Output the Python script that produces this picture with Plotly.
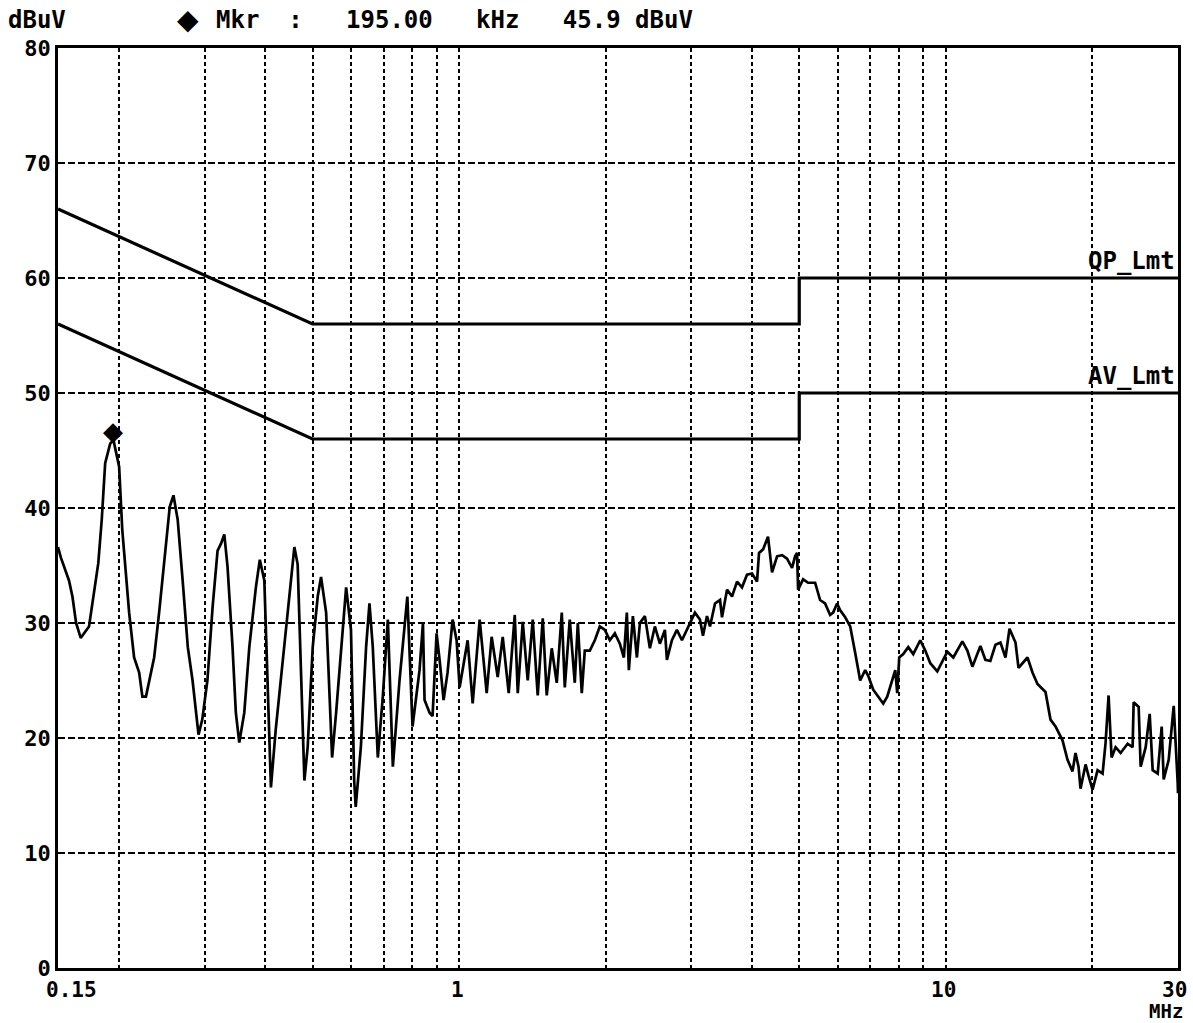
import numpy as np
import plotly.graph_objects as go

# ---- measured trace (frequency in MHz, level in dBuV) ----
freq_mhz = [
    0.150, 0.152, 0.158, 0.1606, 0.1634, 0.167, 0.1737, 0.1762, 0.1815, 0.1845,
    0.1875, 0.192, 0.195, 0.2003, 0.2033, 0.210, 0.215, 0.2202, 0.2236, 0.2274,
    0.2364, 0.242, 0.2498, 0.2545, 0.259, 0.2642, 0.2705, 0.2772, 0.2835, 0.288,
    0.2916, 0.2968, 0.3041, 0.3117, 0.3191, 0.3243, 0.3294, 0.3345, 0.3425, 0.3479,
    0.3536, 0.3621, 0.3708, 0.3825, 0.3897, 0.3981, 0.4043, 0.4107, 0.4201, 0.4342,
    0.4481, 0.4589, 0.4661, 0.4737, 0.4812, 0.4887, 0.5005, 0.5125, 0.5206, 0.5333,
    0.5416, 0.5486, 0.5591, 0.5725, 0.5862, 0.5998, 0.609, 0.6134, 0.6285, 0.6443,
    0.6546, 0.665, 0.681, 0.6973, 0.7141, 0.7312, 0.7546, 0.7831, 0.8025, 0.8296,
    0.8431, 0.8495, 0.870, 0.8823, 0.8993, 0.9122, 0.9296, 0.9473, 0.970, 0.9886,
    1.0028, 1.0416, 1.0667, 1.1026, 1.1398, 1.1669, 1.2007, 1.2296, 1.265, 1.3016,
    1.3202, 1.3518, 1.3839, 1.4171, 1.4511, 1.4859, 1.5142, 1.5506, 1.5878, 1.6259,
    1.6492, 1.6885, 1.729, 1.754, 1.7872, 1.813, 1.8565, 1.9011, 1.9467, 1.9933,
    2.0407, 2.0898, 2.1399, 2.1811, 2.212, 2.233, 2.2761, 2.3196, 2.3529, 2.4093,
    2.4666, 2.5257, 2.5863, 2.6484, 2.6736, 2.7377, 2.8034, 2.8706, 2.9394, 3.01,
    3.0527, 3.1259, 3.1707, 3.2316, 3.278, 3.3566, 3.4371, 3.4697, 3.5529, 3.6381,
    3.7254, 3.8138, 3.9053, 3.999, 4.0949, 4.1337, 4.2135, 4.3136, 4.3967, 4.5023,
    4.6103, 4.7198, 4.833, 4.9025, 4.949, 4.973, 5.0922, 5.2143, 5.3901, 5.5182,
    5.6505, 5.786, 5.8692, 5.9811, 6.0686, 6.2142, 6.3632, 6.5157, 6.6705, 6.8304,
    6.9288, 7.095, 7.2651, 7.4393, 7.581, 7.7628, 7.8743, 7.949, 8.0244, 8.1776,
    8.3736, 8.5743, 8.8635, 9.0761, 9.2937, 9.6071, 10.073, 10.362, 10.817, 11.076,
    11.342, 11.78, 12.06, 12.348, 12.651, 12.954, 13.265, 13.518, 13.908, 14.108,
    14.72, 15.072, 15.431, 16.029, 16.412, 16.806, 17.372, 17.789, 18.215, 18.474,
    18.74, 18.918, 19.373, 19.65, 20.027, 20.507, 20.999, 21.3, 21.602, 21.912,
    22.331, 22.866, 23.637, 24.204, 24.321, 24.904, 25.142, 25.745, 26.237, 26.613,
    27.252, 27.773, 28.035, 28.709, 29.397, 29.958, 30.0,
]
level_dbuv = [
    36.6, 35.7, 33.7, 32.3, 30.0, 28.7, 29.7, 31.4, 35.2, 39.0,
    43.9, 45.6, 45.9, 43.6, 38.1, 30.9, 27.0, 25.7, 23.6, 23.6,
    27.0, 30.9, 36.6, 40.1, 41.1, 39.0, 33.7, 27.9, 25.0, 22.2,
    20.3, 21.6, 25.0, 31.4, 36.3, 36.9, 37.7, 34.9, 27.9, 22.2,
    19.6, 22.2, 27.9, 33.1, 35.5, 33.7, 25.0, 15.7, 20.7, 26.5,
    32.3, 36.6, 35.1, 25.0, 16.3, 19.2, 27.9, 32.3, 34.0, 30.9,
    23.6, 18.3, 22.2, 27.9, 33.1, 29.4, 16.3, 14.0, 19.2, 27.9,
    31.7, 27.9, 18.3, 23.6, 30.3, 17.5, 25.0, 32.3, 21.0, 25.9,
    30.0, 23.3, 22.2, 21.9, 29.1, 26.8, 23.3, 25.7, 30.3, 28.5,
    24.4, 28.5, 23.0, 30.3, 23.9, 28.8, 25.3, 28.8, 23.9, 30.7,
    23.9, 30.1, 25.0, 30.3, 23.7, 30.4, 23.7, 27.8, 24.8, 30.9,
    24.4, 30.3, 24.8, 30.0, 23.9, 27.6, 27.6, 28.5, 29.7, 29.4,
    28.5, 29.1, 28.2, 27.0, 30.9, 25.9, 30.6, 27.0, 30.0, 30.6,
    27.8, 29.7, 28.2, 29.4, 26.8, 28.5, 29.4, 28.5, 29.4, 30.3,
    30.9, 30.3, 28.9, 30.6, 29.7, 31.7, 32.0, 30.5, 32.9, 32.3,
    33.6, 33.1, 34.2, 34.3, 33.6, 36.1, 36.4, 37.5, 34.4, 35.8,
    35.9, 35.6, 34.8, 35.8, 36.1, 32.9, 33.8, 33.5, 33.5, 32.0,
    31.7, 30.7, 30.9, 31.7, 31.1, 30.5, 29.7, 27.4, 25.0, 25.9,
    25.4, 24.2, 23.6, 23.0, 23.6, 25.0, 25.9, 23.9, 27.0, 27.3,
    27.9, 27.3, 28.5, 27.6, 26.5, 25.8, 27.5, 27.0, 28.4, 27.6,
    26.2, 28.0, 26.8, 26.7, 28.1, 28.3, 27.0, 29.5, 28.3, 26.1,
    27.0, 25.7, 24.7, 24.0, 21.6, 21.0, 19.8, 18.1, 17.1, 18.7,
    17.5, 15.6, 17.7, 16.7, 15.5, 17.2, 16.9, 19.6, 23.7, 18.3,
    19.2, 18.7, 19.5, 19.2, 23.1, 22.7, 17.5, 19.2, 22.1, 17.2,
    16.9, 21.0, 16.4, 18.1, 22.8, 16.1, 15.2,
]

# ---- limit lines ----
qp_freq = [0.15, 0.5, 5.0, 5.0, 30.0]
qp_level = [66, 56, 56, 60, 60]
av_freq = [0.15, 0.5, 5.0, 5.0, 30.0]
av_level = [56, 46, 46, 50, 50]
limit_labels = ["QP_Lmt", "AV_Lmt"]
limit_label_levels = [60, 50]

# ---- marker ----
mkr_freq_mhz = 0.195
mkr_level = 45.9

# ---- axes ----
x_grid_vals = [0.2, 0.3, 0.4, 0.5, 0.6, 0.7, 0.8, 0.9, 1, 2, 3, 4, 5, 6, 7, 8, 9, 10, 20]
x_tick_vals = [0.15, 1, 10, 30]
x_tick_labels = ["0.15", "1", "10", "30"]
x_unit = "MHz"
y_tick_vals = [0, 10, 20, 30, 40, 50, 60, 70, 80]
y_unit = "dBuV"

FONT = "DejaVu Sans Mono"
BLACK = "#000000"

fig = go.Figure()
fig.add_trace(go.Scatter(x=qp_freq, y=qp_level, mode="lines",
                         line=dict(color=BLACK, width=3.2), hoverinfo="skip"))
fig.add_trace(go.Scatter(x=av_freq, y=av_level, mode="lines",
                         line=dict(color=BLACK, width=3.2), hoverinfo="skip"))
fig.add_trace(go.Scatter(x=freq_mhz, y=level_dbuv, mode="lines",
                         line=dict(color=BLACK, width=2.7)))

W, H = 1193, 1023
ML, MR, MT, MB = 58, 12, 48, 55
plot_w = W - ML - MR
plot_h = H - MT - MB


def px_x(px):
    return (px - ML) / plot_w


def px_y(py):
    return (H - MB - py) / plot_h


def bold(size):
    return dict(family=FONT, size=size, color=BLACK, weight="bold")


annotations = []
# header line
annotations.append(dict(text=y_unit, xref="paper", yref="paper", x=px_x(6), y=px_y(20),
                        xanchor="left", yanchor="middle", showarrow=False, font=bold(24)))
annotations.append(dict(text="\u25c6", xref="paper", yref="paper", x=px_x(188), y=px_y(20),
                        xanchor="center", yanchor="middle", showarrow=False,
                        font=dict(family="DejaVu Sans", size=28, color=BLACK)))
header = "Mkr  :   %.2f   kHz   %.1f dBuV" % (mkr_freq_mhz * 1000, mkr_level)
annotations.append(dict(text=header, xref="paper", yref="paper", x=px_x(214), y=px_y(20),
                        xanchor="left", yanchor="middle", showarrow=False, font=bold(24)))
# x tick labels
for i, (v, t) in enumerate(zip(x_tick_vals, x_tick_labels)):
    if i == 0:
        anchor, shift = "left", -14
    elif i == len(x_tick_vals) - 1:
        anchor, shift = "right", 11
    else:
        anchor, shift = "center", -2
    annotations.append(dict(text=t, xref="x", yref="paper", x=np.log10(v), y=px_y(990),
                            xanchor=anchor, yanchor="middle", xshift=shift, showarrow=False,
                            font=bold(21)))
annotations.append(dict(text=x_unit, xref="x", yref="paper", x=np.log10(x_tick_vals[-1]),
                        y=px_y(1011), xanchor="right", yanchor="middle", xshift=7,
                        showarrow=False, font=bold(19)))
# limit labels
for name, lvl in zip(limit_labels, limit_label_levels):
    annotations.append(dict(text=name, xref="paper", yref="y", x=1.0, y=lvl,
                            xanchor="right", yanchor="bottom", xshift=-1, yshift=1,
                            showarrow=False, font=bold(24)))
# marker diamond on the trace peak
annotations.append(dict(text="\u25c6", xref="x", yref="y", x=np.log10(mkr_freq_mhz), y=mkr_level,
                        xanchor="center", yanchor="middle", yshift=9, showarrow=False,
                        font=dict(family="DejaVu Sans", size=26, color=BLACK)))

fig.update_layout(
    width=W, height=H,
    margin=dict(l=ML, r=MR, t=MT, b=MB, pad=0),
    paper_bgcolor="white", plot_bgcolor="white",
    showlegend=False,
    font=bold(22),
    annotations=annotations,
)
fig.update_xaxes(type="log", range=[np.log10(0.15), np.log10(30)],
                 tickvals=x_grid_vals, showticklabels=False, ticks="",
                 showgrid=True, gridcolor=BLACK, gridwidth=1.5, griddash="4px,3px",
                 showline=True, mirror=True, linecolor=BLACK, linewidth=2.8,
                 zeroline=False, fixedrange=True)
fig.update_yaxes(range=[0, 80], tickvals=y_tick_vals, ticktext=[str(v) for v in y_tick_vals],
                 ticks="", tickfont=bold(22),
                 showgrid=True, gridcolor=BLACK, gridwidth=1.5, griddash="7px,3px",
                 showline=True, mirror=True, linecolor=BLACK, linewidth=2.8,
                 zeroline=False, fixedrange=True)

fig.write_html("out.html", config={"displayModeBar": False},
               post_script="document.body.style.margin='0px';")
